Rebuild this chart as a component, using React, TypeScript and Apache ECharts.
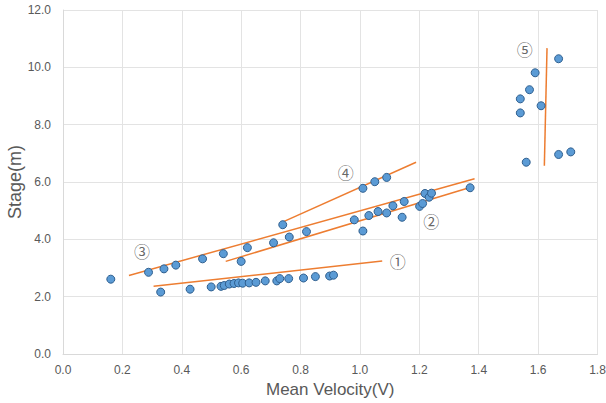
import React, { useEffect, useRef } from "react";
import * as echarts from "echarts";

const velocity = [
  0.161, 0.329, 0.428, 0.499, 0.532, 0.543, 0.56, 0.576, 0.591, 0.605, 0.627, 0.65, 0.681, 0.72, 0.73, 0.76, 0.81, 0.85, 0.898, 0.911,
  0.288, 0.34, 0.38, 0.47, 0.54, 0.6, 0.621, 0.709,
  0.74, 0.762, 0.82, 0.981, 1.01, 1.01, 1.03, 1.05, 1.061, 1.09, 1.09, 1.111, 1.142, 1.149, 1.201, 1.211, 1.219, 1.233, 1.241, 1.371,
  1.669, 1.59, 1.571, 1.54, 1.61, 1.54, 1.669, 1.71, 1.56,
];
const stage = [
  2.61, 2.16, 2.26, 2.34, 2.36, 2.39, 2.44, 2.46, 2.48, 2.47, 2.48, 2.5, 2.55, 2.55, 2.63, 2.63, 2.65, 2.7, 2.72, 2.75,
  2.85, 2.97, 3.1, 3.32, 3.5, 3.23, 3.71, 3.88,
  4.51, 4.08, 4.27, 4.68, 5.78, 4.29, 4.83, 6.01, 4.97, 4.92, 6.16, 5.17, 4.77, 5.32, 5.15, 5.25, 5.6, 5.47, 5.61, 5.8,
  10.3, 9.81, 9.22, 8.9, 8.66, 8.41, 6.96, 7.05, 6.69,
];

const trendStartX = [0.305, 0.548, 0.222, 0.739, 1.621];
const trendStartY = [2.36, 3.23, 2.74, 4.6, 6.57];
const trendEndX = [1.075, 1.362, 1.386, 1.189, 1.63];
const trendEndY = [3.24, 5.78, 6.11, 6.69, 10.67];

const labelNames = ["①", "②", "③", "④", "⑤"];
const labelX = [1.127, 1.24, 0.266, 0.952, 1.555];
const labelY = [3.24, 4.64, 3.6, 6.34, 10.64];

const xTicks = { min: 0, max: 1.8, interval: 0.2 };
const yTicks = { min: 0, max: 12, interval: 2 };

export default function App() {
  const ref = useRef<HTMLDivElement>(null);
  useEffect(() => {
    document.body.style.margin = "0";
    if (!ref.current) return;
    const chart = echarts.init(ref.current, undefined, { renderer: "svg" });
    const font = "'Liberation Sans', Arial, sans-serif";
    const trendSeries = trendStartX.map((sx, i) => ({
      type: "line",
      data: [
        [sx, trendStartY[i]],
        [trendEndX[i], trendEndY[i]],
      ],
      symbol: "none",
      lineStyle: { color: "#ED7D31", width: 1.5 },
      z: 2,
      silent: true,
    }));
    chart.setOption({
      animation: false,
      grid: { left: 63, right: 8.5, top: 10, bottom: 49, containLabel: false, outerBoundsMode: "none" },
      xAxis: {
        type: "value",
        min: xTicks.min,
        max: xTicks.max,
        interval: xTicks.interval,
        name: "Mean Velocity(V)",
        nameLocation: "middle",
        nameGap: 27,
        nameMoveOverlap: false,
        nameTextStyle: { color: "#595959", fontSize: 17, fontFamily: font },
        axisLine: { show: true, lineStyle: { color: "#d9d9d9" } },
        axisTick: { show: false },
        axisLabel: {
          color: "#595959",
          fontSize: 12,
          fontFamily: font,
          margin: 10,
          formatter: (v: number) => v.toFixed(1),
        },
        splitLine: { show: true, lineStyle: { color: "#e3e3e3" } },
      },
      yAxis: {
        type: "value",
        min: yTicks.min,
        max: yTicks.max,
        interval: yTicks.interval,
        name: "Stage(m)",
        nameLocation: "middle",
        nameGap: 39,
        nameRotate: 90,
        nameMoveOverlap: false,
        nameTextStyle: { color: "#595959", fontSize: 18, fontFamily: font },
        axisLine: { show: true, lineStyle: { color: "#d9d9d9" } },
        axisTick: { show: false },
        axisLabel: {
          color: "#595959",
          fontSize: 12,
          fontFamily: font,
          margin: 12,
          formatter: (v: number) => v.toFixed(1),
        },
        splitLine: { show: true, lineStyle: { color: "#e3e3e3" } },
      },
      series: [
        ...trendSeries,
        {
          type: "scatter",
          data: velocity.map((v, i) => [v, stage[i]]),
          symbolSize: 8,
          itemStyle: { color: "#5B9BD5", borderColor: "#2F5F8F", borderWidth: 1, opacity: 1 },
          z: 3,
        },
        {
          type: "scatter",
          data: labelX.map((x, i) => ({ value: [x, labelY[i]], name: labelNames[i] })),
          symbolSize: 0,
          silent: true,
          label: {
            show: true,
            position: "inside",
            formatter: (p: any) => p.name,
            color: "#404040",
            fontSize: 16,
            fontFamily: "'Noto Sans CJK KR', 'Noto Sans CJK SC', sans-serif",
          },
          z: 4,
        },
      ],
    });
    return () => chart.dispose();
  }, []);
  return <div ref={ref} style={{ width: 606, height: 403 }} />;
}
